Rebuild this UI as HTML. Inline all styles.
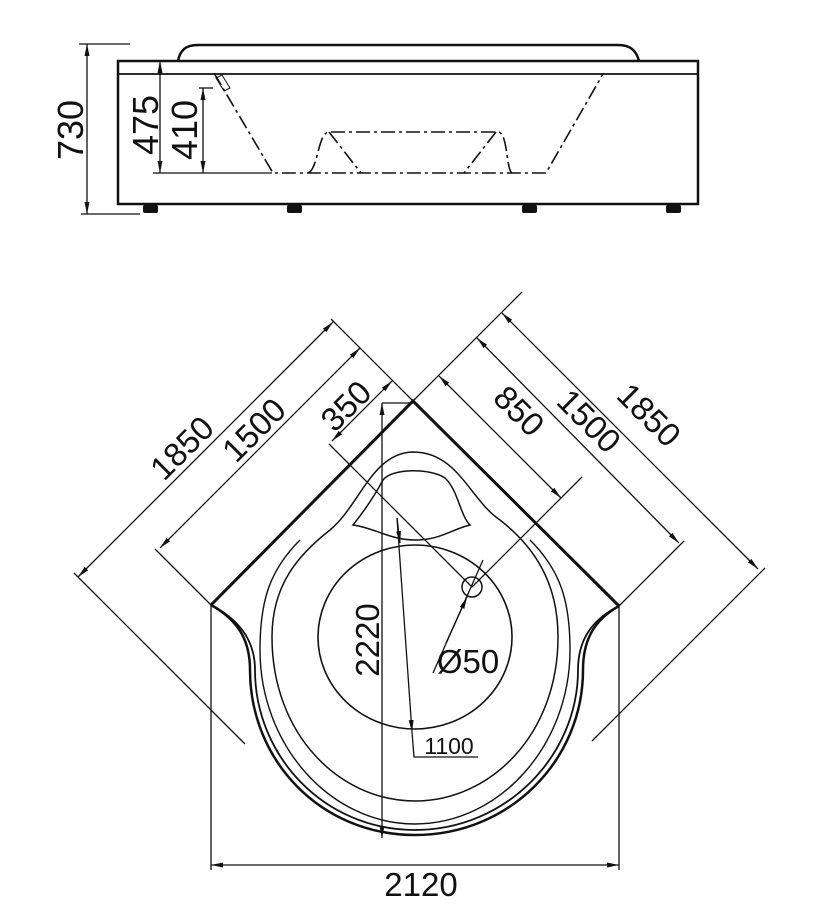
<!DOCTYPE html>
<html><head><meta charset="utf-8"><style>html,body{margin:0;padding:0;background:#fff}svg{display:block}text{font-family:"Liberation Sans",sans-serif;fill:#111}</style></head>
<body>
<svg width="839" height="920" viewBox="0 0 839 920" xmlns="http://www.w3.org/2000/svg">
<defs>
<marker id="a" viewBox="0 0 12 6" refX="12" refY="3" markerWidth="12" markerHeight="6" markerUnits="userSpaceOnUse" orient="auto-start-reverse"><path d="M0,0.5 L12,3 L0,5.5 Z" fill="#111"/></marker>
</defs>
<g stroke="#111" fill="none" stroke-width="1.3">
<path d="M178,61 C180,50 186,45 198,45 L618,45 C630,45 636,50 639,61" stroke-width="2.5"/>
<rect x="118" y="61" width="580" height="143" stroke-width="2.5"/>
<line x1="118" y1="74" x2="698" y2="74" stroke-width="1.8"/>
<g fill="#111" stroke="none">
<rect x="143" y="205" width="15" height="8" rx="2"/><rect x="287" y="205" width="15" height="8" rx="2"/>
<rect x="522" y="205" width="15" height="8" rx="2"/><rect x="666" y="205" width="15" height="8" rx="2"/>
</g>
<g stroke-dasharray="14,4,3,4" stroke-width="1.6">
<path d="M214,73 L273,173 L546,173 L603,74"/>
<path d="M308,173 C318,170 318,132 329,132 L498,132 C508,132 506,170 512,173"/>
<path d="M329,132 L361,173 M496,132 L464,173"/>
</g>
<path d="M216,78 L222,75 L230,88 L224,91 Z" stroke-width="1"/>
<line x1="87" y1="44" x2="87" y2="214" marker-start="url(#a)" marker-end="url(#a)"/>
<line x1="79" y1="44" x2="130" y2="44"/><line x1="81" y1="214" x2="140" y2="214"/>
<line x1="160" y1="61" x2="160" y2="173" marker-start="url(#a)" marker-end="url(#a)"/>
<line x1="203" y1="88" x2="203" y2="173" marker-start="url(#a)" marker-end="url(#a)"/>
<line x1="199" y1="88" x2="213" y2="88"/>
<line x1="153" y1="173" x2="272" y2="173"/>

<path d="M211,605 L413,401 L619,606" stroke-width="3"/>
<path d="M211,605 C238,620 250,640 250,670 C250,760 320,835 415,835 C510,835 583,760 583,670 C583,640 594,620 619,606" stroke-width="2.5"/>
<path d="M215,607 C241,622 255,642 255,670 C255,756 324,830 415,830 C506,830 578,756 578,670 C578,642 590,622 615,608" stroke-width="1.8"/>
<path d="M300,540 C270,570 260,600 260,650 C260,745 330,824 415,824 C500,824 570,745 570,650 C570,600 560,570 530,540" stroke-width="1.4"/>
<path d="M558,637 C558,735 490,801 415,801 C340,801 272,735 272,637 C272,585 298,555 330,530 C360,505 372,453 413,452 C458,452 470,500 500,520 C532,545 558,580 558,637 Z" stroke-width="1.5"/>
<ellipse cx="415" cy="637" rx="97" ry="92" stroke-width="1.6"/>
<path d="M353,525 C365,510 375,495 383,480 C392,468 430,468 445,478 C458,490 460,515 470,525 C450,530 440,540 415,540 C390,540 375,528 353,525 Z" stroke-width="1.5"/>
<circle cx="472" cy="587" r="10" stroke-width="1.5"/>
<line x1="211" y1="605" x2="211" y2="870"/><line x1="619" y1="606" x2="619" y2="870"/>
<line x1="211" y1="865" x2="619" y2="865" marker-start="url(#a)" marker-end="url(#a)"/>
<line x1="382" y1="403" x2="382" y2="838" marker-start="url(#a)" marker-end="url(#a)"/>
<line x1="382" y1="403" x2="413" y2="403"/>
<line x1="413" y1="401" x2="331" y2="319"/>
<line x1="413" y1="401" x2="522" y2="292"/>
<line x1="74" y1="573" x2="245" y2="744"/>
<line x1="211" y1="605" x2="155" y2="549"/>
<line x1="329" y1="444" x2="472" y2="587"/>
<line x1="765" y1="568" x2="592" y2="741"/>
<line x1="619" y1="606" x2="684" y2="541"/>
<line x1="582" y1="477" x2="472" y2="587"/>
<line x1="78" y1="577" x2="333" y2="322" marker-start="url(#a)" marker-end="url(#a)"/>
<line x1="160" y1="548" x2="360" y2="348" marker-start="url(#a)" marker-end="url(#a)"/>
<line x1="332" y1="441" x2="392" y2="381" marker-start="url(#a)" marker-end="url(#a)"/>
<line x1="758" y1="569" x2="502" y2="313" marker-start="url(#a)" marker-end="url(#a)"/>
<line x1="679" y1="543" x2="477" y2="338" marker-start="url(#a)" marker-end="url(#a)"/>
<line x1="561" y1="498" x2="439" y2="376" marker-start="url(#a)" marker-end="url(#a)"/>
<line x1="433" y1="673" x2="483" y2="560"/>
<line x1="446" y1="643" x2="467" y2="597" marker-end="url(#a)"/>
<line x1="397" y1="518" x2="400" y2="543" marker-end="url(#a)"/>
<line x1="397" y1="518" x2="412" y2="732" marker-end="url(#a)"/>
<path d="M412,732 L414,757 L478,757"/>
</g>
<g font-size="36">
<text transform="translate(83,130) rotate(-90)" text-anchor="middle">730</text>
<text transform="translate(158,125) rotate(-90)" text-anchor="middle">475</text>
<text transform="translate(197,130) rotate(-90)" text-anchor="middle">410</text>
</g>
<g font-size="33">
<text transform="translate(190,456) rotate(-45)" text-anchor="middle">1850</text>
<text transform="translate(262,438) rotate(-45)" text-anchor="middle">1500</text>
<text transform="translate(354,414) rotate(-45)" text-anchor="middle">350</text>
<text transform="translate(511,419) rotate(45)" text-anchor="middle">850</text>
<text transform="translate(581,429) rotate(45)" text-anchor="middle">1500</text>
<text transform="translate(641,423) rotate(45)" text-anchor="middle">1850</text>
<text transform="translate(379,640) rotate(-90)" text-anchor="middle">2220</text>
<text x="468" y="673" text-anchor="middle">Ø50</text>
<text x="421" y="896" text-anchor="middle">2120</text>
</g>
<text x="449" y="754" font-size="23" text-anchor="middle">1100</text>
</svg>
</body></html>
